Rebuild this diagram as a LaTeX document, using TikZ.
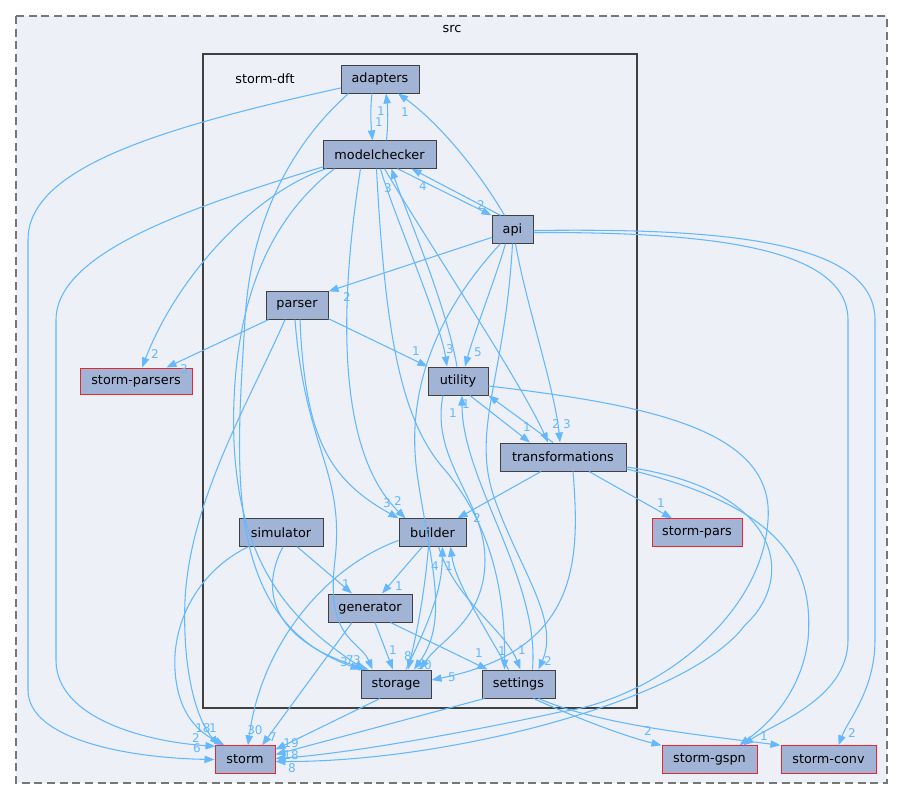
\documentclass[tikz,border=0pt]{standalone}
\usepackage{fontspec}
\setmainfont{DejaVu Sans}
\usetikzlibrary{arrows.meta,calc}

\definecolor{bgfill}{HTML}{EDF0F7}
\definecolor{dirfill}{HTML}{A2B4D6}
\definecolor{dirline}{HTML}{404040}
\definecolor{extline}{HTML}{E8262B}
\definecolor{deplink}{HTML}{63B8FF}
\definecolor{dashline}{HTML}{777777}

\tikzset{every picture/.style={line width=0.75pt}}
\tikzset{
  dirbox/.style={draw=dirline, fill=dirfill, line width=0.75pt, inner sep=0pt, minimum height=20.5pt, font=\fontsize{9.6}{11}\selectfont},
  extbox/.style={dirbox, draw=extline},
  dep/.style={draw=deplink, line width=0.8pt, -{Triangle[length=7.5pt,width=5.5pt]}},
  cnt/.style={text=deplink, inner sep=0pt, font=\fontsize{9}{10}\selectfont},
  grp/.style={inner sep=0pt, font=\fontsize{9.6}{11}\selectfont}
}

\begin{document}
\begin{tikzpicture}[x=0.75pt,y=0.75pt,yscale=-1,xscale=1]
\useasboundingbox (0,0) rectangle (904,800);

% clusters
\draw[draw=dashline, fill=bgfill, line width=1.1pt, dash pattern=on 6pt off 3.5pt] (16,16) rectangle (887,783);
\node[grp] (srclabel) at (452,29) {src};
\draw[draw=dirline, fill=bgfill, line width=1.6pt] (203,54) rectangle (637,708);
\node[grp] (dftlabel) at (265,79) {storm-dft};

% directories
\node[dirbox, minimum width=58.5pt, minimum height=21pt] (adapters) at (380,79) {adapters};
\node[dirbox, minimum width=84.75pt] (modelchecker) at (379.5,154.5) {modelchecker};
\node[dirbox, minimum width=30.75pt] (api) at (512.5,229.5) {api};
\node[dirbox, minimum width=46.5pt] (parser) at (297,305.5) {parser};
\node[extbox, minimum width=84pt, minimum height=19.5pt] (stormparsers) at (136,381) {storm-parsers};
\node[dirbox, minimum width=45pt, minimum height=21pt] (utility) at (458,381) {utility};
\node[dirbox, minimum width=94.5pt, minimum height=21pt] (transformations) at (563,457) {transformations};
\node[dirbox, minimum width=63pt] (simulator) at (281,532.5) {simulator};
\node[dirbox, minimum width=50.25pt] (builder) at (432.5,532.5) {builder};
\node[extbox, minimum width=67.5pt] (stormpars) at (697,532.5) {storm-pars};
\node[dirbox, minimum width=63pt, minimum height=21pt] (generator) at (370,608) {generator};
\node[dirbox, minimum width=52.5pt, minimum height=21pt] (storage) at (396,684) {storage};
\node[dirbox, minimum width=54.75pt, minimum height=21pt] (settings) at (518.5,684) {settings};
\node[extbox, minimum width=45pt] (storm) at (245,759.5) {storm};
\node[extbox, minimum width=71.25pt] (stormgspn) at (709.5,759.5) {storm-gspn};
\node[extbox, minimum width=71.25pt] (stormconv) at (828.5,759.5) {storm-conv};

% top part
\draw[dep] ($(adapters.south)+(-8,0)$) .. controls (370,110) and (371,125) .. ($(modelchecker.north)+(-7,0)$);
\draw[dep] ($(modelchecker.north)+(7,0)$) .. controls (388,125) and (388,110) .. ($(adapters.south)+(6,0)$);
\draw[dep] ($(api.north)+(-8,0)$) .. controls (475,165) and (435,120) .. ($(adapters.south)+(18,0)$);
\draw[dep] ($(modelchecker.south)+(18,0)$) -- (api.north west);
\draw[dep] ($(api.north)+(-12,0)$) -- ($(modelchecker.south)+(32,0)$);

% storm-parsers
\draw[dep] ($(modelchecker.south west)+(4,0)$) .. controls (260,190) and (180,270) .. ($(stormparsers.north)+(6,0)$);
\draw[dep] ($(parser.south west)+(3,0)$) -- ($(stormparsers.north east)+(-26,0)$);

% parser, utility
\draw[dep] ($(api.west)+(0,8)$) -- (parser.north east);
\draw[dep] ($(parser.south east)+(0,-1)$) -- (utility.north west);
\draw[dep] ($(modelchecker.south)+(1,0)$) .. controls (390,205) and (440,320) .. ($(utility.north)+(-11,0)$);
\draw[dep] ($(api.south)+(-7,0)$) .. controls (495,280) and (475,330) .. ($(utility.north)+(7,0)$);
\draw[dep] ($(utility.north)+(-1,0)$) .. controls (445,300) and (405,210) .. ($(modelchecker.south)+(12,0)$);

% transformations
\draw[dep] ($(modelchecker.south)+(5,0)$) .. controls (420,230) and (520,380) .. ($(transformations.north)+(-15,0)$);
\draw[dep] ($(api.south)+(3,0)$) .. controls (525,300) and (555,390) .. ($(transformations.north)+(-3,0)$);
\draw[dep] ($(utility.south)+(12,0)$) -- ($(transformations.north)+(-33,0)$);
\draw[dep] ($(transformations.north)+(-10,0)$) -- (utility.south east);
\draw[dep] ($(transformations.south)+(-22,0)$) -- ($(builder.north)+(25,0)$);
\draw[dep] ($(transformations.south)+(26,0)$) -- ($(stormpars.north)+(-25,0)$);

% builder, generator
\draw[dep] ($(parser.south)+(3,0)$) .. controls (305,440) and (330,480) .. (builder.north west);
\draw[dep] ($(modelchecker.south west)+(38,0)$) .. controls (340,300) and (335,450) .. ($(builder.north west)+(7,0)$);
\draw[dep] ($(builder.south)+(-10,0)$) -- ($(generator.north)+(12,0)$);
\draw[dep] ($(simulator.south)+(16,0)$) -- ($(generator.north)+(-18,0)$);
\draw[dep] ($(storage.north)+(10,0)$) .. controls (430,620) and (442,590) .. ($(builder.south)+(10,0)$);
\draw[dep] ($(settings.north)+(-10,0)$) .. controls (480,620) and (455,580) .. ($(builder.south)+(18,0)$);

% into storage
\draw[dep] ($(adapters.south west)+(8,0)$) .. controls (285,150) and (250,230) .. (245,320) .. controls (236,470) and (222,620) .. (storage.north west);
\draw[dep] ($(modelchecker.south west)+(12,0)$) .. controls (268,220) and (238,300) .. (234,400) .. controls (228,560) and (290,620) .. ($(storage.north west)+(4,0)$);
\draw[dep] ($(simulator.south)+(2,0)$) .. controls (250,610) and (300,650) .. ($(storage.north west)+(8,0)$);
\draw[dep] ($(parser.south)+(-2,0)$) .. controls (305,450) and (345,470) .. (335,560) .. controls (325,640) and (360,640) .. ($(storage.north west)+(12,0)$);
\draw[dep] ($(generator.south)+(5,0)$) -- ($(storage.north)+(-3,0)$);
\draw[dep] ($(builder.south)+(-4,0)$) .. controls (424,600) and (415,640) .. ($(storage.north)+(12,0)$);
\draw[dep] ($(utility.south)+(-15,0)$) .. controls (430,460) and (485,500) .. (485,560) .. controls (485,620) and (440,640) .. ($(storage.north)+(24,0)$);
\draw[dep] ($(api.south)+(-12,0)$) .. controls (430,320) and (405,400) .. (418,480) .. controls (430,560) and (450,620) .. ($(storage.north)+(18,0)$);
\draw[dep] ($(transformations.south)+(10,0)$) .. controls (580,560) and (580,650) .. ($(storage.east)+(0,-4)$);

% into settings
\draw[dep] ($(generator.south east)+(-22,0)$) -- ($(settings.north west)+(6,0)$);
\draw[dep] ($(modelchecker.south)+(-3,0)$) .. controls (385,330) and (400,420) .. (445,470) .. controls (495,530) and (505,600) .. ($(settings.north)+(-14,0)$);
\draw[dep] ($(builder.south)+(6,0)$) .. controls (455,600) and (505,630) .. ($(settings.north)+(2,0)$);
\draw[dep] (api.south) .. controls (505,380) and (470,430) .. (495,500) .. controls (520,570) and (560,620) .. ($(settings.north)+(20,0)$);
\draw[dep] ($(settings.north)+(14,0)$) .. controls (540,580) and (462,480) .. ($(utility.south)+(4,0)$);

% into storm
\draw[dep] ($(adapters.west)+(0,9)$) .. controls (150,130) and (28,170) .. (28,240) -- (28,690) .. controls (28,740) and (130,758) .. (storm.west);
\draw[dep] ($(modelchecker.south west)+(1,-2)$) .. controls (200,205) and (56,250) .. (56,320) -- (56,660) .. controls (56,720) and (150,742) .. ($(storm.north west)+(1,1)$);
\draw[dep] ($(parser.south)+(-12,0)$) .. controls (250,400) and (190,500) .. (185,600) .. controls (182,680) and (200,725) .. ($(storm.north west)+(5,0)$);
\draw[dep] ($(simulator.south west)+(10,0)$) .. controls (200,570) and (172,620) .. (175,670) .. controls (178,720) and (205,735) .. ($(storm.north west)+(10,0)$);
\draw[dep] ($(builder.west)+(0,8)$) .. controls (330,565) and (262,640) .. ($(storm.north)+(3,0)$);
\draw[dep] ($(generator.south)+(-18,0)$) -- ($(storm.north)+(17,0)$);
\draw[dep] ($(storage.south)+(-16,0)$) -- ($(storm.east)+(0,-10)$);
\draw[dep] ($(settings.south west)+(3,0)$) -- ($(storm.east)+(0,-5)$);
\draw[dep] ($(utility.east)+(0,5)$) .. controls (650,405) and (775,430) .. (768,520) .. controls (762,620) and (650,700) .. (560,712) .. controls (430,740) and (330,755) .. ($(storm.east)+(0,-1)$);
\draw[dep] ($(transformations.east)+(0,10)$) .. controls (785,490) and (795,580) .. (745,625) .. controls (690,700) and (450,762) .. ($(storm.east)+(0,2)$);

% outside storm-dft
\draw[dep] ($(transformations.east)+(0,12)$) .. controls (775,505) and (815,560) .. (808,640) .. controls (800,700) and (760,730) .. ($(stormgspn.north)+(30,0)$);
\draw[dep] ($(api.east)+(0,3)$) .. controls (700,232) and (848,245) .. (848,320) -- (848,640) .. controls (848,700) and (770,725) .. ($(stormgspn.north)+(34,0)$);
\draw[dep] ($(api.east)+(0,1)$) .. controls (720,228) and (875,240) .. (875,320) -- (875,640) .. controls (875,690) and (848,720) .. ($(stormconv.north)+(10,0)$);
\draw[dep] ($(settings.south)+(15,0)$) .. controls (570,715) and (620,735) .. (stormgspn.north west);
\draw[dep] ($(settings.south)+(20,0)$) .. controls (600,725) and (700,735) .. (stormconv.north west);

% counts
\node[cnt] (c1) at (379,122) {1};
\node[cnt] (c2) at (381,111) {1};
\node[cnt] (c3) at (405,112) {1};
\node[cnt] (c4) at (481,205) {2};
\node[cnt] (c5) at (423,186) {4};
\node[cnt] (c6) at (155,354) {2};
\node[cnt] (c7) at (184,369) {3};
\node[cnt] (c8) at (347,297) {2};
\node[cnt] (c9) at (416,351) {1};
\node[cnt] (c10) at (450,349) {3};
\node[cnt] (c11) at (478,352) {5};
\node[cnt] (c12) at (388,188) {3};
\node[cnt] (c13) at (556,424) {2};
\node[cnt] (c14) at (567,424) {3};
\node[cnt] (c15) at (527,427) {1};
\node[cnt] (c16) at (466,404) {1};
\node[cnt] (c17) at (453,413) {1};
\node[cnt] (c18) at (477,518) {2};
\node[cnt] (c19) at (661,503) {1};
\node[cnt] (c20) at (387,503) {3};
\node[cnt] (c21) at (398,501) {2};
\node[cnt] (c22) at (399,586) {1};
\node[cnt] (c23) at (346,584) {1};
\node[cnt] (c24) at (435,566) {4};
\node[cnt] (c25) at (449,566) {1};
\node[cnt] (c26) at (344,662) {3};
\node[cnt] (c27) at (350,660) {7};
\node[cnt] (c28) at (357,660) {3};
\node[cnt] (c29) at (393,650) {1};
\node[cnt] (c30) at (408,656) {8};
\node[cnt] (c31) at (424,665) {10};
\node[cnt] (c32) at (452,677) {5};
\node[cnt] (c33) at (479,653) {1};
\node[cnt] (c34) at (502,651) {1};
\node[cnt] (c35) at (522,650) {1};
\node[cnt] (c36) at (548,661) {2};
\node[cnt] (c37) at (197,748) {6};
\node[cnt] (c38) at (196,738) {2};
\node[cnt] (c39) at (203,728) {18};
\node[cnt] (c40) at (213,728) {1};
\node[cnt] (c41) at (255,730) {30};
\node[cnt] (c42) at (273,737) {7};
\node[cnt] (c43) at (291,743) {19};
\node[cnt] (c44) at (291,755) {18};
\node[cnt] (c45) at (292,768) {8};
\node[cnt] (c46) at (648,731) {2};
\node[cnt] (c47) at (764,736) {1};
\node[cnt] (c48) at (852,733) {2};

\end{tikzpicture}
\end{document}
